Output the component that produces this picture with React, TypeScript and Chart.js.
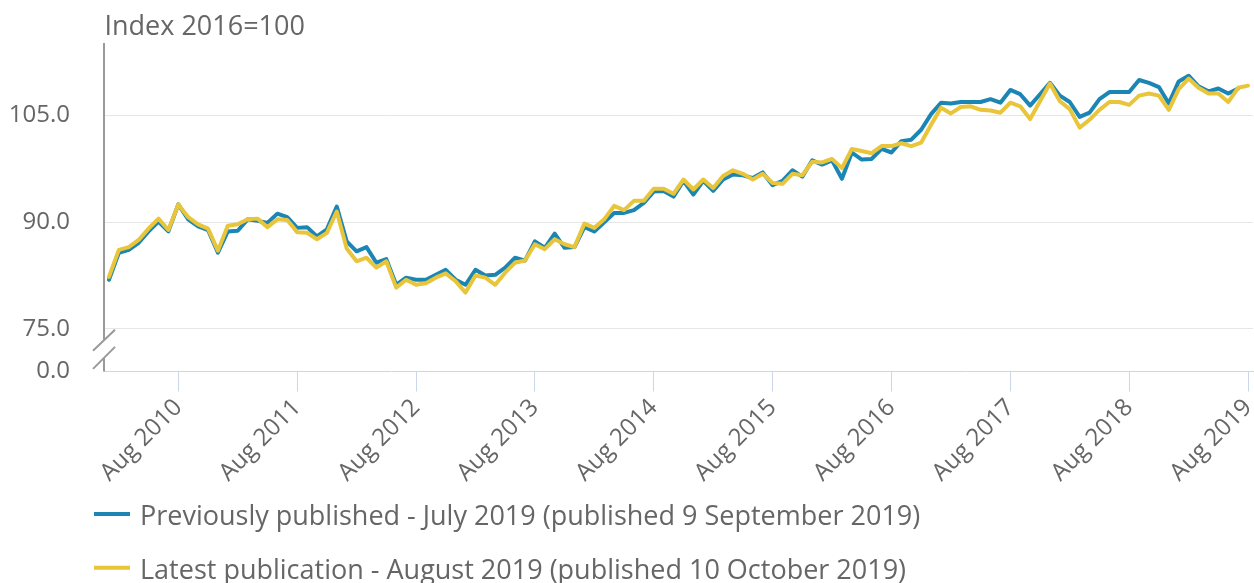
import React, { useEffect, useRef } from "react";
import { Chart, registerables } from "chart.js";

Chart.register(...registerables);

const MONTH_NAMES = ["Jan", "Feb", "Mar", "Apr", "May", "Jun", "Jul", "Aug", "Sep", "Oct", "Nov", "Dec"];
const START_YEAR = 2010;
const MONTH_COUNT = 116; // Jan 2010 .. Aug 2019

const categories: string[] = [];
for (let i = 0; i < MONTH_COUNT; i++) {
  categories.push(`${MONTH_NAMES[i % 12]} ${START_YEAR + Math.floor(i / 12)}`);
}

// Previously published - July 2019 (Jan 2010 .. Jul 2019)
const previousSeries = [
  81.9, 85.7, 86.1, 87.1, 88.7, 90.1, 88.7, 92.5, 90.4, 89.4, 88.9, 85.7,
  88.7, 88.8, 90.4, 90.2, 89.9, 91.2, 90.7, 89.2, 89.3, 88.0, 89.0, 92.2,
  87.3, 85.9, 86.5, 84.3, 84.8, 81.2, 82.2, 81.9, 81.9, 82.6, 83.3, 81.9,
  81.2, 83.3, 82.5, 82.6, 83.6, 85.0, 84.6, 87.3, 86.4, 88.4, 86.4, 86.5,
  89.3, 88.7, 90.0, 91.3, 91.3, 91.7, 92.7, 94.3, 94.4, 93.6, 95.8, 93.9,
  95.8, 94.4, 96.0, 96.7, 96.6, 96.2, 97.0, 95.2, 95.8, 97.3, 96.4, 98.7,
  98.1, 98.7, 96.1, 99.8, 98.8, 98.9, 100.3, 99.8, 101.4, 101.6, 103.0, 105.2,
  106.8, 106.7, 106.9, 106.9, 106.9, 107.3, 106.8, 108.6, 108.0, 106.4, 108.0, 109.6,
  107.8, 106.9, 104.8, 105.4, 107.3, 108.3, 108.3, 108.3, 110.0, 109.6, 109.0, 106.7,
  109.8, 110.6, 109.1, 108.4, 108.8, 108.1, 108.8,
];

// Latest publication - August 2019 (Jan 2010 .. Aug 2019)
const latestSeries = [
  82.3, 86.1, 86.5, 87.5, 89.1, 90.5, 88.9, 92.5, 90.7, 89.7, 89.1, 86.0,
  89.5, 89.7, 90.4, 90.5, 89.3, 90.4, 90.3, 88.6, 88.5, 87.6, 88.5, 91.5,
  86.3, 84.5, 85.0, 83.6, 84.5, 80.8, 81.9, 81.2, 81.4, 82.2, 82.8, 81.7,
  80.1, 82.5, 82.2, 81.2, 82.9, 84.3, 84.6, 86.9, 86.2, 87.6, 86.9, 86.5,
  89.8, 89.2, 90.4, 92.3, 91.7, 93.0, 93.0, 94.7, 94.7, 94.0, 96.0, 94.6,
  96.0, 94.8, 96.5, 97.3, 96.8, 96.0, 96.8, 95.5, 95.4, 96.8, 96.6, 98.5,
  98.4, 98.9, 97.6, 100.3, 100.0, 99.7, 100.7, 100.7, 101.1, 100.7, 101.2, 103.7,
  106.1, 105.3, 106.2, 106.3, 105.8, 105.7, 105.4, 106.8, 106.3, 104.5, 107.0, 109.5,
  107.0, 105.9, 103.3, 104.4, 105.8, 106.9, 106.9, 106.5, 107.8, 108.1, 107.8, 105.8,
  108.7, 110.2, 108.9, 108.1, 108.1, 106.9, 108.9, 109.2,
];

const seriesNames = [
  "Previously published - July 2019 (published 9 September 2019)",
  "Latest publication - August 2019 (published 10 October 2019)",
];
const seriesColors = ["#1b86b3", "#e8c53a"];

// Broken y axis: the floor value stands for 0.0
const Y_FLOOR = 69;
const Y_CEIL = 115.2;
const yTickValues = [69, 75, 90, 105];
const yTickLabels = ["0.0", "75.0", "90.0", "105.0"];
const xTickMonth = "Aug";
const axisTitle = "Index 2016=100";

const FONT_FAMILY = "'Open Sans', sans-serif";
const TEXT_COLOR = "#666666";

const decorPlugin = {
  id: "decor",
  afterDraw(chart: any) {
    const { ctx, chartArea } = chart;
    const yScale = chart.scales.y;
    const x0 = chartArea.left;
    ctx.save();
    // axis title
    ctx.font = `27px ${FONT_FAMILY}`;
    ctx.fillStyle = TEXT_COLOR;
    ctx.textAlign = "left";
    ctx.textBaseline = "alphabetic";
    ctx.fillText(axisTitle, x0 + 0.5, 35);

    // y axis line with break marks
    const y75 = yScale.getPixelForValue(75);
    const yb = chartArea.bottom;
    ctx.strokeStyle = "#999999";
    ctx.lineWidth = 2;
    ctx.beginPath();
    ctx.moveTo(x0, chartArea.top);
    ctx.lineTo(x0, y75 + 12);
    ctx.moveTo(x0, y75 + 29);
    ctx.lineTo(x0, yb);
    ctx.moveTo(x0 - 11, y75 + 22);
    ctx.lineTo(x0 + 11, y75 + 1);
    ctx.moveTo(x0 - 11, y75 + 40);
    ctx.lineTo(x0 + 11, y75 + 18);
    ctx.stroke();

    // legend
    const rows = [514, 567.7];
    ctx.font = `27px ${FONT_FAMILY}`;
    seriesNames.forEach((name, i) => {
      const cy = rows[i];
      ctx.strokeStyle = seriesColors[i];
      ctx.lineWidth = 4;
      ctx.beginPath();
      ctx.moveTo(94, cy);
      ctx.lineTo(130, cy);
      ctx.stroke();
      ctx.fillStyle = TEXT_COLOR;
      ctx.fillText(name, 140, cy + 11);
    });
    ctx.restore();
  },
};

export default function App() {
  const canvasRef = useRef<HTMLCanvasElement | null>(null);

  useEffect(() => {
    document.body.style.margin = "0";
    const canvas = canvasRef.current;
    if (!canvas) return;
    const isTick = (i: number) => categories[i] && categories[i].startsWith(xTickMonth);
    const chart = new Chart(canvas, {
      type: "line",
      data: {
        labels: categories,
        datasets: [
          {
            label: seriesNames[0],
            data: previousSeries,
            borderColor: seriesColors[0],
            backgroundColor: seriesColors[0],
            borderWidth: 4,
            pointRadius: 0,
            tension: 0,
            borderJoinStyle: "round",
            borderCapStyle: "round",
            order: 1,
          },
          {
            label: seriesNames[1],
            data: latestSeries,
            borderColor: seriesColors[1],
            backgroundColor: seriesColors[1],
            borderWidth: 4,
            pointRadius: 0,
            tension: 0,
            borderJoinStyle: "round",
            borderCapStyle: "round",
            order: 0,
          },
        ],
      },
      options: {
        responsive: false,
        animation: false,
        devicePixelRatio: 1,
        layout: { padding: { top: 43, right: 1, left: 0, bottom: 0 } },
        plugins: {
          legend: { display: false },
          tooltip: { enabled: false },
          title: { display: false },
        },
        scales: {
          x: {
            type: "category",
            offset: true,
            grid: {
              offset: false,
              drawOnChartArea: false,
              drawTicks: true,
              tickLength: 20,
              color: (c: any) => (isTick(c.index) ? "#ccd6eb" : "rgba(0,0,0,0)"),
              lineWidth: 1,
            },
            border: { display: true, color: "#ccd6eb", width: 1 },
            ticks: {
              autoSkip: false,
              maxRotation: 45,
              minRotation: 45,
              padding: 2,
              color: TEXT_COLOR,
              font: { family: FONT_FAMILY, size: 24 },
              callback: (_v: any, i: number) => (isTick(i) ? categories[i] : ""),
            },
            afterFit: (s: any) => {
              s.height = 583 - 371.5;
              s.paddingLeft = 0;
              s.paddingRight = 0;
            },
          },
          y: {
            type: "linear",
            min: Y_FLOOR,
            max: Y_CEIL,
            grid: {
              drawTicks: false,
              color: (c: any) => (c.tick && c.tick.value === Y_FLOOR ? "rgba(0,0,0,0)" : "#e6e6e6"),
              lineWidth: 1,
            },
            border: { display: false },
            afterBuildTicks: (s: any) => {
              s.ticks = yTickValues.map((v) => ({ value: v }));
            },
            ticks: {
              padding: 34,
              color: TEXT_COLOR,
              font: { family: FONT_FAMILY, size: 24 },
              callback: (v: any) => {
                const k = yTickValues.indexOf(Number(v));
                return k >= 0 ? yTickLabels[k] : "";
              },
            },
            afterFit: (s: any) => {
              s.width = 104;
              s.paddingTop = 0;
              s.paddingBottom = 0;
            },
          },
        },
      },
      plugins: [decorPlugin],
    });
    return () => chart.destroy();
  }, []);

  return <canvas ref={canvasRef} width={1254} height={583} style={{ display: "block" }} />;
}
